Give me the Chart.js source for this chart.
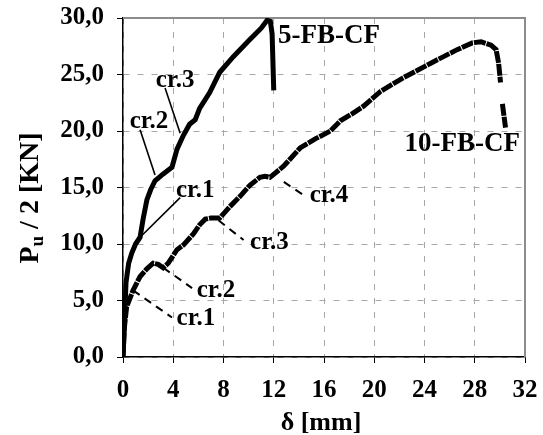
<!DOCTYPE html>
<html>
<head>
<meta charset="utf-8">
<script src="https://cdn.jsdelivr.net/npm/chart.js@4"></script>
<style>
    body { margin: 0; background: #fff; }
</style>
</head>
<body>
<canvas id="loadChart" width="543" height="435"></canvas>
<script>
// 5-FB-CF curve
var x5 = [0, 0.08, 0.24, 0.45, 0.7, 1.0, 1.36, 1.6, 1.9, 2.2, 2.55, 3.2, 3.9, 4.3, 4.8, 5.3, 5.75, 6.1, 6.9, 7.7, 8.8, 10.1, 11.0, 11.47, 11.73, 11.87, 12.0];
var y5 = [0, 2.1, 6.6, 8.3, 9.2, 10.0, 10.6, 12.2, 13.9, 14.8, 15.6, 16.2, 16.8, 18.4, 19.6, 20.6, 21.0, 22.0, 23.4, 25.2, 26.6, 28.1, 29.1, 29.8, 29.7, 28.6, 23.6];

// 10-FB-CF curve (null = gap in the record)
var x10 = [0, 0.1, 0.29, 0.8, 1.35, 1.9, 2.4, 2.8, 3.2, 3.6, 4.3, 4.8, 5.6, 6.1, 6.55, 7.0, 7.7, 8.5, 9.3, 10.1, 10.9, 11.3, 11.7, 12.8, 14.1, 15.3, 16.5, 17.3, 18.2, 19.15, 20.5, 22.3, 24.5, 26.6, 27.8, 28.5, 29.3, 29.7, 29.9, 30.05, 30.12, 30.2, 30.45];
var y10 = [0, 2.5, 4.45, 5.9, 7.1, 7.8, 8.3, 8.2, 7.9, 8.3, 9.5, 9.9, 10.9, 11.7, 12.2, 12.3, 12.3, 13.3, 14.2, 15.2, 15.9, 16.0, 15.9, 16.9, 18.5, 19.3, 20.0, 20.9, 21.5, 22.2, 23.5, 24.7, 26.0, 27.2, 27.8, 27.9, 27.6, 27.2, 26.0, 24.3, null, 22.4, 20.3];

var xTicks = [0, 4, 8, 12, 16, 20, 24, 28, 32];
var yTicks = [0, 5, 10, 15, 20, 25, 30];

// crack labels: text position + leader line, in data units
var crackNotes = [
    { text: "cr.3", tx: 4.15, ty: 24.5, x1: 3.35, y1: 23.8, x2: 4.55, y2: 19.8, dashed: false },
    { text: "cr.2", tx: 2.07, ty: 20.8, x1: 1.36, y1: 20.1, x2: 2.55, y2: 16.1, dashed: false },
    { text: "cr.1", tx: 5.75, ty: 14.7, x1: 4.55, y1: 14.1, x2: 1.36, y2: 10.6, dashed: false },
    { text: "cr.1", tx: 5.8, ty: 3.4, x1: 0.8, y1: 5.9, x2: 3.9, y2: 3.5, dashed: true },
    { text: "cr.2", tx: 7.4, ty: 5.85, x1: 3.2, y1: 7.9, x2: 5.5, y2: 6.1, dashed: true },
    { text: "cr.3", tx: 11.65, ty: 10.1, x1: 7.6, y1: 12.1, x2: 9.6, y2: 10.35, dashed: true },
    { text: "cr.4", tx: 16.4, ty: 14.25, x1: 12.8, y1: 15.5, x2: 14.4, y2: 14.3, dashed: true }
];
var curveNames = [
    { text: "5-FB-CF", tx: 16.4, ty: 28.4 },
    { text: "10-FB-CF", tx: 27.0, ty: 18.85 }
];

var serif = '"Liberation Serif", "Times New Roman", serif';

function toPoints(xs, ys) {
    var pts = [];
    for (var i = 0; i < xs.length; i++) {
        pts.push({ x: xs[i], y: ys[i] });
    }
    return pts;
}

var notesPlugin = {
    id: 'notes',
    beforeDatasetsDraw: function (chart) {
        var ctx = chart.ctx, a = chart.chartArea;
        ctx.save();
        ctx.strokeStyle = '#8c8c8c';
        ctx.lineWidth = 2;
        ctx.beginPath();
        ctx.moveTo(a.left, a.top);
        ctx.lineTo(a.right, a.top);
        ctx.lineTo(a.right, a.bottom);
        ctx.stroke();
        ctx.restore();
    },
    afterDatasetsDraw: function (chart) {
        var ctx = chart.ctx;
        var xs = chart.scales.x, ys = chart.scales.y;
        ctx.save();
        ctx.strokeStyle = '#000';
        ctx.fillStyle = '#000';
        crackNotes.forEach(function (n) {
            ctx.beginPath();
            ctx.lineWidth = n.dashed ? 2 : 1.6;
            ctx.setLineDash(n.dashed ? [8, 6] : []);
            ctx.moveTo(xs.getPixelForValue(n.x1), ys.getPixelForValue(n.y1));
            ctx.lineTo(xs.getPixelForValue(n.x2), ys.getPixelForValue(n.y2));
            ctx.stroke();
        });
        ctx.setLineDash([]);
        ctx.textAlign = 'center';
        ctx.textBaseline = 'middle';
        ctx.font = 'bold 25px ' + serif;
        crackNotes.forEach(function (n) {
            ctx.fillText(n.text, xs.getPixelForValue(n.tx), ys.getPixelForValue(n.ty));
        });
        ctx.font = 'bold 27px ' + serif;
        curveNames.forEach(function (n) {
            ctx.fillText(n.text, xs.getPixelForValue(n.tx), ys.getPixelForValue(n.ty));
        });

        // axis titles
        ctx.font = 'bold 26px ' + serif;
        ctx.fillText('\u03b4 [mm]', 321, 423);

        ctx.translate(28, 198);
        ctx.rotate(-Math.PI / 2);
        var big = 'bold 28px ' + serif, small = 'bold 19px ' + serif;
        ctx.font = big;
        var wP = ctx.measureText('P').width;
        var rest = ' / 2 [KN]';
        var wR = ctx.measureText(rest).width;
        ctx.font = small;
        var wU = ctx.measureText('u').width;
        var x0 = -(wP + wU + wR) / 2;
        ctx.textAlign = 'left';
        ctx.textBaseline = 'alphabetic';
        ctx.font = big;
        ctx.fillText('P', x0, 10);
        ctx.font = small;
        ctx.fillText('u', x0 + wP, 15);
        ctx.font = big;
        ctx.fillText(rest, x0 + wP + wU, 10);
        ctx.restore();
    }
};

new Chart("loadChart", {
    type: "line",
    data: {
        datasets: [{
            label: "5-FB-CF",
            data: toPoints(x5, y5),
            borderColor: "#000",
            borderWidth: 5,
            pointRadius: 0,
            tension: 0
        }, {
            label: "10-FB-CF",
            data: toPoints(x10, y10),
            borderColor: "#000",
            borderWidth: 5,
            borderDash: [12, 1],
            pointRadius: 0,
            tension: 0,
            spanGaps: false
        }]
    },
    options: {
        responsive: false,
        animation: false,
        layout: {
            padding: { top: 18, right: 18, left: 0, bottom: 0 }
        },
        plugins: {
            legend: { display: false },
            tooltip: { enabled: false }
        },
        scales: {
            x: {
                type: 'linear',
                min: 0,
                max: 32,
                afterBuildTicks: function (scale) {
                    scale.ticks = xTicks.map(function (v) { return { value: v }; });
                },
                afterFit: function (scale) {
                    scale.height = 78;
                    scale.paddingLeft = 0;
                    scale.paddingRight = 0;
                },
                grid: {
                    color: '#a8a8a8',
                    lineWidth: 1,
                    tickColor: '#000',
                    tickLength: 6,
                    tickBorderDash: []
                },
                border: { color: '#000', width: 1.5, dash: [6, 8] },
                ticks: {
                    color: '#000',
                    padding: 13,
                    maxRotation: 0,
                    font: { size: 25, weight: 'bold', family: serif }
                }
            },
            y: {
                min: 0,
                max: 30,
                afterBuildTicks: function (scale) {
                    scale.ticks = yTicks.map(function (v) { return { value: v }; });
                },
                afterFit: function (scale) {
                    scale.width = 123;
                    scale.paddingTop = 0;
                    scale.paddingBottom = 0;
                },
                grid: {
                    color: '#a8a8a8',
                    lineWidth: 1,
                    tickColor: '#000',
                    tickLength: 6,
                    tickBorderDash: []
                },
                border: { color: '#000', width: 1.5, dash: [6, 8] },
                ticks: {
                    color: '#000',
                    padding: 13,
                    callback: function (v) { return v.toFixed(1).replace('.', ','); },
                    font: { size: 25, weight: 'bold', family: serif }
                }
            }
        }
    },
    plugins: [notesPlugin]
});
</script>
</body>
</html>
